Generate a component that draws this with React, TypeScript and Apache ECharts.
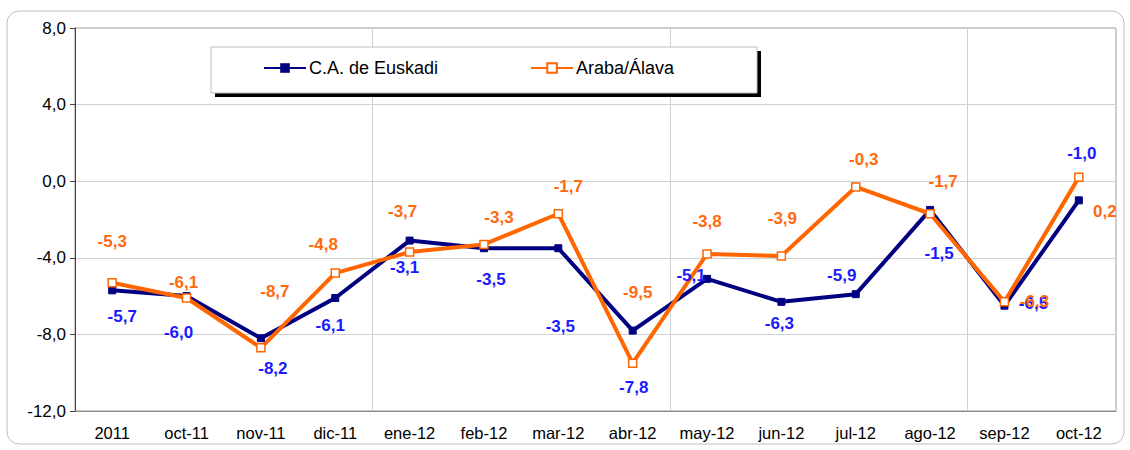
import React, { useEffect, useRef } from "react";
import * as echarts from "echarts";

const categories = ["2011", "oct-11", "nov-11", "dic-11", "ene-12", "feb-12", "mar-12", "abr-12", "may-12", "jun-12", "jul-12", "ago-12", "sep-12", "oct-12"];
const euskadi = [-5.7, -6.0, -8.2, -6.1, -3.1, -3.5, -3.5, -7.8, -5.1, -6.3, -5.9, -1.5, -6.5, -1.0];
const araba = [-5.3, -6.1, -8.7, -4.8, -3.7, -3.3, -1.7, -9.5, -3.8, -3.9, -0.3, -1.7, -6.3, 0.2];
const yTicks = [-12, -8, -4, 0, 4, 8];

// label placement offsets (pixels) relative to each point
const euskadiLabelOffsets = [[10, 26], [-8, 36], [12, 30], [-5, 27], [-5, 27], [7, 31], [2, 78], [1, 57], [-16, -3], [-2, 22], [-14, -19], [9, 44], [29, -2], [3, -47]];
const arabaLabelOffsets = [[0, -41], [-3, -16], [14, -56], [-12, -29], [-7, -41], [15, -27], [10, -27], [5, -71], [0, -32], [1, -37], [8, -27], [13, -32], [30, 0], [26, 34]];

const FONT = "'Liberation Sans', Arial, sans-serif";
const fmt = (v: number) => v.toFixed(1).replace(".", ",");

export default function App() {
  const ref = useRef<HTMLDivElement>(null);
  useEffect(() => {
    document.body.style.margin = "0";
    if (!ref.current) return;
    const chart = echarts.init(ref.current, undefined, { renderer: "svg" });
    const mk = (vals: number[], offs: number[][], color: string) =>
      vals.map((v, i) => ({
        value: v,
        label: {
          show: true,
          position: "inside",
          offset: offs[i],
          formatter: () => fmt(v),
          color,
          fontWeight: "bold",
          fontSize: 17,
          fontFamily: FONT,
        },
      }));
    chart.setOption({
      animation: false,
      backgroundColor: "#fff",
      graphic: [
        { type: "rect", shape: { x: 7, y: 11, width: 1117, height: 433, r: 12 }, style: { fill: "none", stroke: "#bdbdbd", lineWidth: 1 }, z: 0 },
        { type: "rect", shape: { x: 215, y: 51, width: 546, height: 46 }, style: { fill: "#000" }, z: 5 },
        { type: "rect", shape: { x: 211, y: 47, width: 546, height: 46 }, style: { fill: "#fff", stroke: "#bbb", lineWidth: 1 }, z: 6 },
      ],
      legend: {
        z: 10,
        left: 263,
        top: 59,
        padding: 0,
        itemWidth: 42,
        itemHeight: 12,
        itemGap: 92,
        textStyle: { fontSize: 18, fontFamily: FONT, color: "#000", padding: [0, 0, 0, -2] },
        data: ["C.A. de Euskadi", "Araba/Álava"],
      },
      grid: { left: 75, right: 14, top: 28, bottom: 39, show: true, borderColor: "#999", borderWidth: 1 },
      xAxis: {
        type: "category",
        data: categories,
        boundaryGap: true,
        axisLine: { onZero: false, lineStyle: { color: "#888" } },
        axisTick: { show: false },
        axisLabel: { color: "#000", fontSize: 16.5, fontFamily: FONT, margin: 13, interval: 0 },
        splitLine: { show: true, interval: (i: number) => i % 4 === 0 && i > 0, lineStyle: { color: "#d0d0d0" } },
      },
      yAxis: {
        type: "value",
        min: yTicks[0],
        max: yTicks[yTicks.length - 1],
        interval: 4,
        axisLine: { show: true, lineStyle: { color: "#444" } },
        axisTick: { show: true, length: 5, lineStyle: { color: "#444" } },
        axisLabel: { color: "#000", fontSize: 17, fontFamily: FONT, margin: 9, formatter: (v: number) => fmt(v) },
        splitLine: { show: true, lineStyle: { color: "#d0d0d0" } },
      },
      series: [
        {
          name: "C.A. de Euskadi",
          type: "line",
          data: mk(euskadi, euskadiLabelOffsets, "#1a1aff"),
          symbol: "rect",
          symbolSize: 7,
          lineStyle: { color: "#000080", width: 4 },
          itemStyle: { color: "#000080", borderColor: "#000080" },
        },
        {
          name: "Araba/Álava",
          type: "line",
          data: mk(araba, arabaLabelOffsets, "#ff6a10"),
          symbol: "rect",
          symbolSize: 8,
          lineStyle: { color: "#ff6600", width: 4 },
          itemStyle: { color: "#fff", borderColor: "#ff6600", borderWidth: 1.5 },
        },
      ],
    });
    return () => chart.dispose();
  }, []);
  return <div ref={ref} style={{ width: 1130, height: 450 }} />;
}
